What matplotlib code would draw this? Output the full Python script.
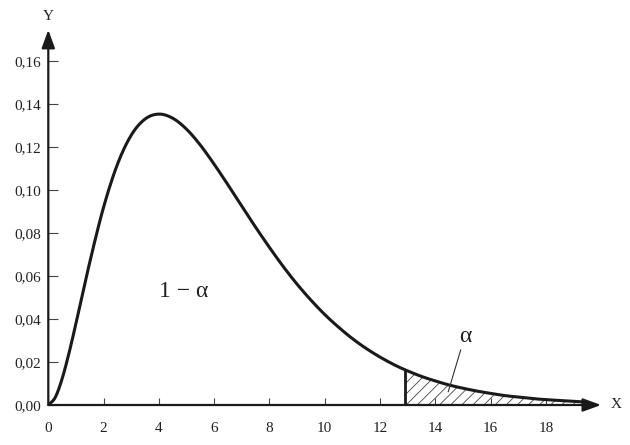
import numpy as np
import matplotlib
matplotlib.use("Agg")
import matplotlib.pyplot as plt

# values (density curve)
x_pts = [0, 0.25, 0.5, 0.75, 1, 1.5, 2, 2.5, 3, 3.5, 4, 4.5, 5, 5.5, 6, 6.5, 7, 7.5, 8, 8.5, 9, 9.5,
         10, 10.5, 11, 11.5, 12, 12.5, 12.9, 13.5, 14, 14.5, 15, 15.5, 16, 16.5, 17,
         17.5, 18, 18.5, 19, 19.4]
y_pts = [0, 0.0035, 0.0122, 0.0242, 0.0379, 0.0664, 0.0920, 0.1119, 0.1255, 0.1330, 0.1353, 0.1334,
         0.1283, 0.1209, 0.1120, 0.1024, 0.0925, 0.0827, 0.0733, 0.0644, 0.0562, 0.0488,
         0.0421, 0.0362, 0.0309, 0.0263, 0.0223, 0.0188, 0.0164, 0.0133, 0.0112, 0.0093,
         0.0078, 0.0065, 0.0054, 0.0044, 0.0037, 0.0030, 0.0025, 0.0021, 0.0017, 0.0014]
x_crit = 12.9
x_ticks = [0, 2, 4, 6, 8, 10, 12, 14, 16, 18]
x_tick_labels = ["0", "2", "4", "6", "8", "10", "12", "14", "16", "18"]
y_ticks = [0.00, 0.02, 0.04, 0.06, 0.08, 0.10, 0.12, 0.14, 0.16]
y_tick_labels = ["0,00", "0,02", "0,04", "0,06", "0,08", "0,10", "0,12", "0,14", "0,16"]


def catmull_rom(xs, ys, n=20):
    xs = np.asarray(xs, float); ys = np.asarray(ys, float)
    P = np.column_stack([xs, ys])
    P = np.vstack([2 * P[0] - P[1], P, 2 * P[-1] - P[-2]])
    out = []
    for i in range(1, len(P) - 2):
        p0, p1, p2, p3 = P[i - 1], P[i], P[i + 1], P[i + 2]
        # centripetal-ish: use uniform but with chord-length aware tangents
        t = np.linspace(0, 1, n, endpoint=False)[:, None]
        d1 = np.linalg.norm(p2 - p1)
        m1 = (p2 - p0) / max(np.linalg.norm(p2 - p0), 1e-12) * d1
        m2 = (p3 - p1) / max(np.linalg.norm(p3 - p1), 1e-12) * d1
        h00 = 2 * t ** 3 - 3 * t ** 2 + 1
        h10 = t ** 3 - 2 * t ** 2 + t
        h01 = -2 * t ** 3 + 3 * t ** 2
        h11 = t ** 3 - t ** 2
        out.append(h00 * p1 + h10 * m1 + h01 * p2 + h11 * m2)
    out.append(P[-2][None, :])
    out = np.vstack(out)
    return out[:, 0], out[:, 1]


plt.rcParams['font.family'] = ['Liberation Serif', 'DejaVu Serif']
plt.rcParams['hatch.linewidth'] = 0.6

fig = plt.figure(figsize=(6.3, 4.45), dpi=100)
ax = fig.add_axes([48.3 / 630, 40 / 445, 20.5 * 27.64 / 630, 387 / 445])
ax.set_xlim(0, 20.5)
ax.set_ylim(0, 0.18)
for s in ax.spines.values():
    s.set_visible(False)

xs, ys = catmull_rom(x_pts, y_pts)
ax.plot(xs, ys, color='#1a1a1a', lw=2.2, solid_capstyle='butt', zorder=3)

m = xs >= x_crit
ax.fill_between(xs[m], 0, ys[m], facecolor='none', edgecolor='#444444', hatch='///',
                linewidth=0, zorder=2)
yc = np.interp(x_crit, x_pts, y_pts)
ax.plot([x_crit, x_crit], [0, yc], color='#1a1a1a', lw=2.0, zorder=3)

# axes with arrows
ax.annotate('', xy=(20.0, 0), xytext=(0, 0), xycoords='data',
            arrowprops=dict(arrowstyle='-|>,head_length=1.1,head_width=0.4',
                            color='#1a1a1a', lw=1.6, shrinkA=0, shrinkB=0),
            annotation_clip=False, zorder=4)
ax.annotate('', xy=(0, 0.1745), xytext=(0, 0), xycoords='data',
            arrowprops=dict(arrowstyle='-|>,head_length=1.1,head_width=0.4',
                            color='#1a1a1a', lw=1.6, shrinkA=0, shrinkB=0),
            annotation_clip=False, zorder=4)
ax.text(20.55, 0.0003, 'X', ha='center', va='center', fontsize=11, color='#222222',
        clip_on=False)
ax.text(0, 0.1805, 'Y', ha='center', va='center', fontsize=11, color='#222222',
        clip_on=False)

ax.set_xticks(x_ticks)
ax.set_xticklabels(x_tick_labels)
ax.set_yticks(y_ticks)
ax.set_yticklabels(y_tick_labels)
ax.tick_params(axis='x', direction='in', length=5, width=0.8, pad=12, labelsize=11,
               colors='#444444', labelcolor='#222222')
ax.tick_params(axis='y', direction='in', length=7, width=0.8, pad=5, labelsize=11,
               colors='#444444', labelcolor='#222222')

ax.text(4.91, 0.0527, '1 − α', ha='center', va='center', fontsize=17, color='#222222')
ax.text(15.08, 0.0318, 'α', ha='center', va='center', fontsize=17, color='#222222')
ax.plot([14.92, 14.47], [0.0256, 0.0062], color='#333333', lw=0.8, zorder=3)

fig.savefig('out.png', dpi=100)
